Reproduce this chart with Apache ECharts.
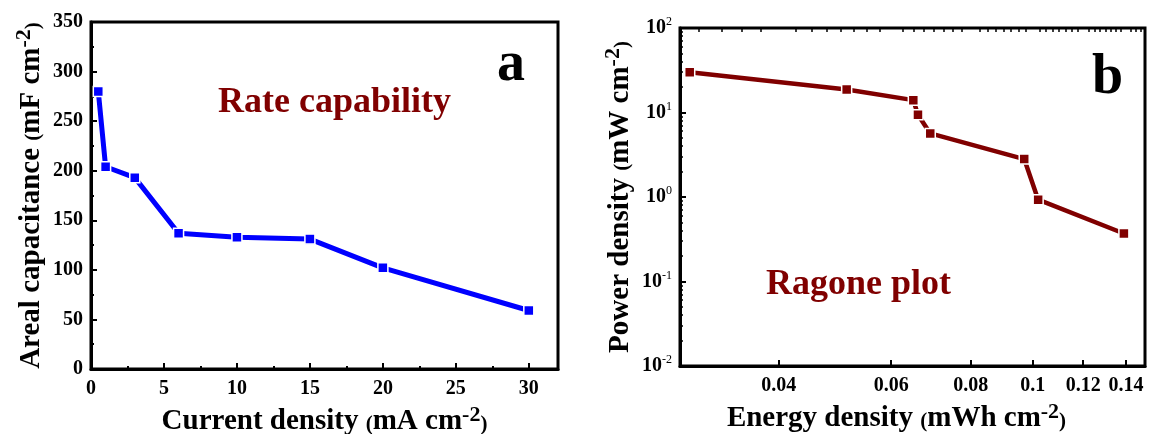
<!DOCTYPE html>
<html>
<head>
<meta charset="utf-8">
<script src="https://cdn.jsdelivr.net/npm/echarts@6/dist/echarts.min.js"></script>
<style>
html,body{margin:0;padding:0;background:#fff;}
#chart{width:1155px;height:434px;}
</style>
</head>
<body>
<div id="chart"></div>
<script>
// ---- Panel a: rate capability ----
const currentDensity = [0.5, 1, 3, 6, 10, 15, 20, 30];
const arealCapacitance = [280, 204, 193, 137, 133, 131, 102, 59];
const rateXTicks = [0, 5, 10, 15, 20, 25, 30];

// ---- Panel b: Ragone plot ----
const energyDensity = [0.029, 0.0511, 0.065, 0.0661, 0.0691, 0.097, 0.102, 0.139];
const powerDensity = [29.9, 18.7, 14.0, 9.4, 5.65, 2.81, 0.93, 0.37];
const energyTicks = [0.04, 0.06, 0.08, 0.1, 0.12, 0.14];
const energyMinorStep = 0.0025;

const FONT = "'Liberation Serif','Times New Roman',serif";
const energyMinorTicks = [];
for (let i = 11; i <= 60; i++) {
  const v = +(i * energyMinorStep).toFixed(4);
  if (v >= 0.028 && v <= 0.15 && energyTicks.indexOf(v) < 0) energyMinorTicks.push(v);
}

const nameRich = {
  m: {fontSize: 29, fontWeight: 'bold', fontFamily: FONT, color: '#000', lineHeight: 30},
  p: {fontSize: 21, fontWeight: 'bold', fontFamily: FONT, color: '#000', lineHeight: 30, padding:[5,0,0,0]},
  s: {fontSize: 22, fontWeight: 'bold', fontFamily: FONT, color: '#000', lineHeight: 22, padding: [0, 0, 14, 0]}
};
const tickLabel = {fontSize: 20, fontWeight: 'bold', fontFamily: FONT, color: '#000'};
const axisLine = {show: true, lineStyle: {color: '#000', width: 3}};

const chart = echarts.init(document.getElementById('chart'), null, {renderer: 'canvas'});
chart.setOption({
  animation: false,
  backgroundColor: '#fff',
  grid: [
    {left: 91, top: 22, width: 467, height: 347, outerBoundsMode: 'none', containLabel: false, show: true, borderColor: '#000', borderWidth: 3, backgroundColor: 'transparent'},
    {left: 680, top: 28, width: 465, height: 338, outerBoundsMode: 'none', containLabel: false, show: true, borderColor: '#000', borderWidth: 3, backgroundColor: 'transparent'}
  ],
  xAxis: [
    {
      gridIndex: 0, type: 'value', min: 0, max: 32,
      name: '{m|Current density }{p|(}{m|mA cm}{s|-2}{p|)}',
      nameLocation: 'middle', nameGap: 11,
      nameTextStyle: {rich: nameRich, padding: [0, 0, 0, 0]},
      axisLine: axisLine,
      axisTick: {inside: true, length: 6, lineStyle: {width: 2, color: '#000'}, customValues: rateXTicks},
      minorTick: {show: true, splitNumber: 2, length: 3, lineStyle: {width: 2, color: '#000'}},
      axisLabel: Object.assign({margin: 10, customValues: rateXTicks}, tickLabel),
      splitLine: {show: false}
    },
    {
      gridIndex: 1, type: 'log', logBase: 10, min: 0.028, max: 0.15,
      name: '{m|Energy density }{p|(}{m|mWh cm}{s|-2}{p|)}',
      nameLocation: 'middle', nameGap: 15,
      nameTextStyle: {rich: nameRich, padding: [0, 32, 0, 0]},
      axisLine: axisLine,
      axisTick: {inside: true, length: 6, lineStyle: {width: 2, color: '#000'}, customValues: energyTicks},
      axisLabel: Object.assign({margin: 10, customValues: energyTicks, formatter: v => String(+v.toFixed(2))}, tickLabel),
      minorTick: {show: false},
      splitLine: {show: false}
    },
    {
      gridIndex: 1, type: 'log', logBase: 10, min: 0.028, max: 0.15,
      axisLine: {show: false},
      axisTick: {inside: true, length: 4, lineStyle: {width: 1.5, color: '#000'}, customValues: energyMinorTicks},
      axisLabel: {show: false},
      splitLine: {show: false}
    }
  ],
  yAxis: [
    {
      gridIndex: 0, type: 'value', min: 0, max: 350, interval: 50,
      name: '{m|Areal capacitance }{p|(}{m|mF cm}{s|-2}{p|)}',
      nameLocation: 'middle', nameGap: 40,
      nameTextStyle: {rich: nameRich},
      axisLine: axisLine,
      axisTick: {inside: true, length: 6, lineStyle: {width: 2, color: '#000'}},
      minorTick: {show: true, splitNumber: 2, length: 3, lineStyle: {width: 2, color: '#000'}},
      axisLabel: Object.assign({margin: 8}, tickLabel),
      splitLine: {show: false}
    },
    {
      gridIndex: 1, type: 'log', logBase: 10, min: 0.01, max: 100,
      name: '{m|Power density }{p|(}{m|mW cm}{s|-2}{p|)}',
      nameLocation: 'middle', nameGap: 30,
      nameTextStyle: {rich: nameRich},
      axisLine: axisLine,
      axisTick: {inside: true, length: 6, lineStyle: {width: 2, color: '#000'}},
      minorTick: {show: true, splitNumber: 9, length: 3, lineStyle: {width: 1.5, color: '#000'}},
      axisLabel: {
        margin: 8,
        formatter: v => '{b|10}{e|' + Math.round(Math.log10(v)) + '}',
        rich: {
          b: {fontSize: 20, fontWeight: 'bold', fontFamily: FONT, color: '#000', lineHeight: 22},
          e: {fontSize: 12, fontFamily: FONT, color: '#000', lineHeight: 12, padding: [0, 0, 12, 0]}
        }
      },
      splitLine: {show: false}
    }
  ],
  series: [
    {
      type: 'line', xAxisIndex: 0, yAxisIndex: 0,
      data: currentDensity.map((x, i) => [x, arealCapacitance[i]]),
      symbol: 'rect', symbolSize: 10,
      lineStyle: {color: '#0000ff', width: 5},
      itemStyle: {color: '#0000ff', borderColor: '#fff', borderWidth: 1.5}
    },
    {
      type: 'line', xAxisIndex: 1, yAxisIndex: 1,
      data: energyDensity.map((x, i) => [x, powerDensity[i]]),
      symbol: 'rect', symbolSize: 10,
      lineStyle: {color: '#800000', width: 4.5},
      itemStyle: {color: '#800000', borderColor: '#fff', borderWidth: 1.5}
    }
  ],
  graphic: [
    {type: 'text', left: 218, top: 85, style: {text: 'Rate capability', fill: '#800000', font: 'bold 36px ' + FONT}},
    {type: 'text', left: 497, top: 38, style: {text: 'a', fill: '#000', font: 'bold 56px ' + FONT}},
    {type: 'text', left: 766, top: 267, style: {text: 'Ragone plot', fill: '#800000', font: 'bold 36px ' + FONT}},
    {type: 'text', left: 1092, top: 51, style: {text: 'b', fill: '#000', font: 'bold 56px ' + FONT}}
  ]
});
</script>
</body>
</html>
